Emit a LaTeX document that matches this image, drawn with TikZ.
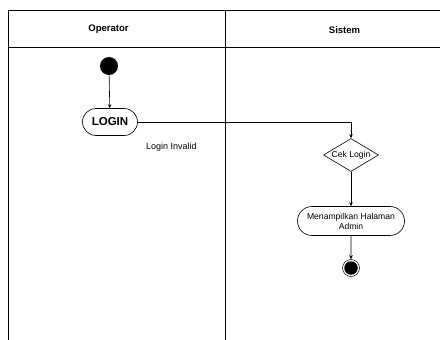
\documentclass[tikz,border=0pt]{standalone}
\usepackage{fontspec}
\setmainfont{Liberation Sans}
\usetikzlibrary{shapes.geometric,shapes.misc,arrows.meta}
\begin{document}
\begin{tikzpicture}[x=1pt,y=-1pt,
  lane/.style={draw=black,line width=0.9pt},
  hdr/.style={font=\fontsize{9.5}{11}\selectfont\bfseries},
  action/.style={draw,rounded rectangle,line width=0.6pt,inner sep=0pt,align=center},
  decide/.style={draw,diamond,line width=0.6pt,inner sep=0pt,minimum width=55pt,minimum height=33pt},
  flow/.style={line width=0.6pt,-{Stealth[length=4pt,width=3.5pt]}},
  note/.style={font=\fontsize{9}{10}\selectfont}]
\useasboundingbox (0,0) rectangle (440,340);
\fill[white] (0,0) rectangle (440,340);
% swimlanes
\draw[lane] (8,340) -- (8,10) -- (441,10);
\draw[lane] (8,47) -- (441,47);
\draw[lane] (225,10) -- (225,340);
\node[hdr] (hop) at (108.5,29) {Operator};
\node[hdr] (hsi) at (344.5,30) {Sistem};
% nodes
\node[circle,fill=black,minimum size=18pt,inner sep=0pt] (start) at (109,66) {};
\node[action,minimum width=55pt,minimum height=27pt,font=\fontsize{11.5}{13}\selectfont\bfseries] (login) at (110,122) {LOGIN};
\node[note] (inv) at (171.5,147) {Login Invalid};
\node[decide] (cek) at (351,155) {};
\node[note,font=\fontsize{8.6}{10}\selectfont] (cekt) at (351,155) {Cek Login};
\node[action,minimum width=107pt,minimum height=29pt,font=\fontsize{8.6}{10}\selectfont] (show) at (351,221) {Menampilkan Halaman\\Admin};
\node[circle,draw,line width=0.5pt,minimum size=17pt,inner sep=0pt] (end) at (351,268) {};
\node[circle,fill=black,minimum size=13.5pt,inner sep=0pt] (endin) at (351,268) {};
% connectors
\draw[flow] (start) -- (login);
\draw[flow] (login.east) -| (cek.north);
\draw[flow] (cek) -- (show);
\draw[flow] (show) -- (end);
\end{tikzpicture}
\end{document}
